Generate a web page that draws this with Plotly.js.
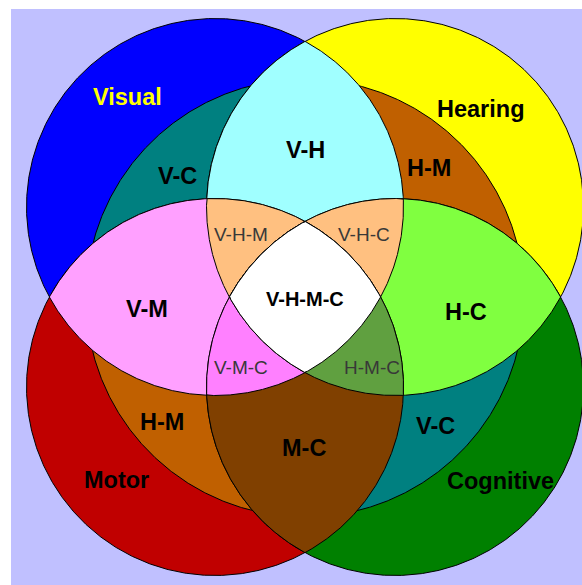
<!DOCTYPE html>
<html>
<head>
<meta charset="utf-8">
<script src="https://cdn.plot.ly/plotly-3.0.1.min.js"></script>
<style>html,body{margin:0;padding:0;background:#fff;}#chart{width:582px;height:585px;}</style>
</head>
<body>
<div id="chart"></div>
<script>
// ---- diagram data ----
const setNames   = ['Visual', 'Hearing', 'Motor', 'Cognitive'];
const setColors  = ['#0000FF', '#FFFF00', '#C00000', '#008000'];
// circle geometry (index 4 = the central ring circle)
const circleX = [215, 395, 215, 395, 305];
const circleY = [207, 207, 387, 387, 298];
const circleR = [188.5, 188.5, 188.5, 188.5, 219];

// regions, painted in this order (each is the intersection of the listed circles)
const regionNames  = ['Visual', 'Hearing', 'Motor', 'Cognitive',
                      'V-C', 'H-M', 'H-M', 'V-C',
                      'V-H', 'V-M', 'H-C', 'M-C',
                      'V-H-M', 'V-H-C', 'V-M-C', 'H-M-C',
                      'V-H-M-C'];
const regionSets   = [[0], [1], [2], [3],
                      [0, 4], [1, 4], [2, 4], [3, 4],
                      [0, 1], [0, 2], [1, 3], [2, 3],
                      [0, 1, 2], [0, 1, 3], [0, 2, 3], [1, 2, 3],
                      [0, 1, 2, 3]];
const regionColors = ['#0000FF', '#FFFF00', '#C00000', '#008000',
                      '#008080', '#C06000', '#C06000', '#008080',
                      '#A0FFFF', '#FFA0FF', '#80FF40', '#804000',
                      '#FFC080', '#FFC080', '#FF80FF', '#60A040',
                      '#FFFFFF'];

// labels
const labelText  = ['Visual', 'Hearing', 'Motor', 'Cognitive',
                    'V-C', 'H-M', 'H-M', 'V-C',
                    'V-H', 'V-M', 'H-C', 'M-C',
                    'V-H-M', 'V-H-C', 'V-M-C', 'H-M-C', 'V-H-M-C'];
const labelX     = [127, 481, 116.5, 500.5, 177, 429, 162, 435.5, 305, 147, 465.5, 304, 240.5, 364, 241, 371.5, 305];
const labelY     = [97, 108.5, 480, 480.5, 175.5, 168, 422, 425.5, 150, 308.5, 312, 448, 234, 234, 367, 367, 299];
const labelSize  = [23.5, 23.5, 23.5, 23.5, 23.5, 23.5, 23.5, 23.5, 23.5, 23.5, 23.5, 23.5, 19, 19, 19, 19, 20];
const labelBold  = [1, 1, 1, 1, 1, 1, 1, 1, 1, 1, 1, 1, 0, 0, 0, 0, 1];
const labelColor = ['#FFFF00', '#000000', '#000000', '#000000',
                    '#000000', '#000000', '#000000', '#000000',
                    '#000000', '#000000', '#000000', '#000000',
                    '#383838', '#383838', '#383838', '#383838', '#000000'];

// ---- geometry: boundary of a convex intersection of disks ----
function regionOutline(ids) {
  let px = 0, py = 0;
  ids.forEach(i => { px += circleX[i]; py += circleY[i]; });
  px /= ids.length; py /= ids.length;
  const N = 900, xs = [], ys = [];
  for (let k = 0; k <= N; k++) {
    const a = 2 * Math.PI * k / N, ux = Math.cos(a), uy = Math.sin(a);
    let t = Infinity;
    ids.forEach(i => {
      const wx = px - circleX[i], wy = py - circleY[i];
      const b = wx * ux + wy * uy;
      const c = wx * wx + wy * wy - circleR[i] * circleR[i];
      const ti = -b + Math.sqrt(Math.max(0, b * b - c));
      if (ti < t) t = ti;
    });
    xs.push(px + t * ux); ys.push(py + t * uy);
  }
  return {x: xs, y: ys};
}

const traces = regionSets.map((ids, r) => {
  const o = regionOutline(ids);
  return {
    type: 'scatter', mode: 'lines', x: o.x, y: o.y,
    fill: 'toself', fillcolor: regionColors[r],
    line: {color: '#000000', width: 1},
    name: regionNames[r], hoverinfo: 'skip', showlegend: false
  };
});

const FONT = 'Arial, "Liberation Sans", Helvetica, sans-serif';
const annotations = labelText.map((t, i) => ({
  x: labelX[i], y: labelY[i], xref: 'x', yref: 'y',
  text: t, showarrow: false, xanchor: 'center', yanchor: 'middle',
  font: {family: FONT, size: labelSize[i], color: labelColor[i], weight: labelBold[i] ? 'bold' : 'normal'}
}));

const layout = {
  width: 582, height: 585,
  margin: {l: 11, r: 0, t: 9, b: 0, pad: 0},
  paper_bgcolor: '#FFFFFF', plot_bgcolor: '#C0C0FF',
  xaxis: {range: [11, 582], visible: false, fixedrange: true},
  yaxis: {range: [585, 9], visible: false, fixedrange: true},
  showlegend: false,
  annotations: annotations
};

Plotly.newPlot('chart', traces, layout, {staticPlot: true, displayModeBar: false});
</script>
</body>
</html>
